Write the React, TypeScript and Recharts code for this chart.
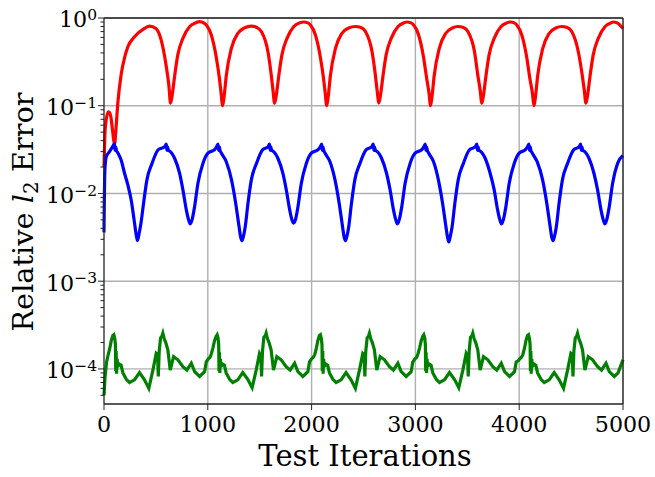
import React from 'react';
import { LineChart, Line, XAxis, YAxis, CartesianGrid, ReferenceLine } from 'recharts';

// red curve (one row per lobe, starting at its dip)
const redIter = [
  0, 8, 21, 43, 63, 85, 101, 117, 133, 166, 200, 230, 294, 390, 439, 500, 551, 600, 625,
  641, 656, 681, 711, 761, 826, 881, 921, 961, 986, 1034, 1081, 1113, 1128,
  1143, 1158, 1178, 1227, 1290, 1353, 1420, 1473, 1516, 1580, 1612, 1628,
  1644, 1659, 1684, 1714, 1764, 1829, 1884, 1924, 1964, 1989, 2037, 2084, 2116, 2131,
  2146, 2161, 2181, 2230, 2293, 2356, 2423, 2476, 2519, 2583, 2615, 2631,
  2648, 2663, 2688, 2718, 2768, 2833, 2888, 2918, 2958, 2983, 3031, 3078, 3110, 3131,
  3146, 3161, 3181, 3230, 3293, 3356, 3410, 3463, 3506, 3570, 3602, 3624,
  3640, 3655, 3680, 3710, 3760, 3825, 3880, 3912, 3952, 3977, 4025, 4072, 4104, 4127,
  4143, 4158, 4178, 4227, 4290, 4353, 4410, 4463, 4506, 4570, 4608, 4627,
  4643, 4658, 4683, 4713, 4763, 4828, 4883, 4905, 4945, 4970, 5000,
];
const redErr = [
  0.02, 0.045, 0.069, 0.085, 0.078, 0.049, 0.036, 0.058, 0.107, 0.23, 0.36, 0.47, 0.61, 0.76, 0.81, 0.76, 0.56, 0.28, 0.17,
  0.107, 0.13, 0.22, 0.38, 0.59, 0.8, 0.88, 0.91, 0.88, 0.83, 0.64, 0.36, 0.2, 0.14,
  0.1, 0.13, 0.22, 0.45, 0.67, 0.77, 0.81, 0.78, 0.7, 0.41, 0.22, 0.15,
  0.107, 0.13, 0.22, 0.38, 0.59, 0.8, 0.88, 0.9, 0.88, 0.83, 0.64, 0.36, 0.2, 0.14,
  0.1, 0.13, 0.22, 0.45, 0.67, 0.77, 0.8, 0.78, 0.7, 0.41, 0.22, 0.15,
  0.108, 0.13, 0.22, 0.38, 0.59, 0.8, 0.88, 0.9, 0.88, 0.83, 0.64, 0.36, 0.2, 0.14,
  0.1, 0.13, 0.22, 0.45, 0.67, 0.77, 0.8, 0.78, 0.7, 0.41, 0.22, 0.15,
  0.107, 0.13, 0.22, 0.38, 0.59, 0.8, 0.88, 0.9, 0.88, 0.83, 0.64, 0.36, 0.2, 0.14,
  0.1, 0.13, 0.22, 0.45, 0.67, 0.77, 0.8, 0.78, 0.7, 0.41, 0.22, 0.15,
  0.107, 0.13, 0.22, 0.38, 0.59, 0.8, 0.88, 0.9, 0.88, 0.83, 0.76,
];

// blue curve (one row per half period, starting at the spike)
const blueIter = [
  0, 8, 21, 53, 85, 101, 106, 112, 120, 133, 165, 198, 230, 262, 290, 310, 323, 336, 355, 381, 413, 463, 523, 585,
  600, 606, 612, 620, 632, 680, 728, 760, 793, 815, 831, 848, 873, 905, 953, 1001, 1066, 1085,
  1098, 1104, 1110, 1118, 1133, 1178, 1229, 1269, 1301, 1316, 1329, 1342, 1361, 1387, 1419, 1469, 1529, 1580,
  1595, 1601, 1607, 1615, 1627, 1675, 1723, 1756, 1789, 1811, 1827, 1844, 1869, 1901, 1949, 1997, 2062, 2084,
  2097, 2103, 2109, 2117, 2132, 2177, 2226, 2266, 2298, 2313, 2326, 2339, 2358, 2384, 2416, 2466, 2526, 2579,
  2594, 2600, 2606, 2614, 2626, 2674, 2722, 2756, 2789, 2811, 2827, 2844, 2869, 2901, 2949, 2997, 3062, 3082,
  3095, 3101, 3107, 3115, 3130, 3175, 3222, 3262, 3294, 3309, 3322, 3335, 3354, 3380, 3412, 3462, 3522, 3577,
  3592, 3598, 3604, 3612, 3624, 3672, 3720, 3759, 3792, 3814, 3830, 3847, 3872, 3904, 3952, 4000, 4060, 4080,
  4093, 4099, 4105, 4113, 4128, 4173, 4226, 4266, 4298, 4313, 4326, 4339, 4358, 4384, 4416, 4466, 4526, 4577,
  4592, 4598, 4604, 4612, 4624, 4672, 4720, 4755, 4788, 4810, 4826, 4843, 4868, 4900, 4948, 5000,
];
const blueErr = [
  0.0036, 0.018, 0.026, 0.03, 0.0345, 0.037, 0.031, 0.034, 0.031, 0.029, 0.024, 0.017, 0.0125, 0.0084, 0.005, 0.0034, 0.0029, 0.0034, 0.0045, 0.0077, 0.0142, 0.022, 0.0316, 0.034,
  0.0365, 0.031, 0.034, 0.031, 0.0305, 0.0252, 0.017, 0.011, 0.0065, 0.005, 0.0045, 0.005, 0.0071, 0.0131, 0.022, 0.0288, 0.0316, 0.034,
  0.0365, 0.031, 0.034, 0.031, 0.0285, 0.023, 0.0142, 0.0077, 0.0042, 0.0032, 0.0029, 0.0032, 0.0042, 0.0077, 0.0142, 0.022, 0.0316, 0.034,
  0.0365, 0.031, 0.034, 0.031, 0.0305, 0.0252, 0.017, 0.011, 0.0065, 0.005, 0.0046, 0.005, 0.0071, 0.0131, 0.022, 0.0288, 0.0316, 0.034,
  0.0365, 0.031, 0.034, 0.031, 0.0285, 0.023, 0.0142, 0.0077, 0.0042, 0.0032, 0.0029, 0.0032, 0.0042, 0.0077, 0.0142, 0.022, 0.0316, 0.034,
  0.0365, 0.031, 0.034, 0.031, 0.0305, 0.0252, 0.017, 0.011, 0.0065, 0.005, 0.0045, 0.005, 0.0071, 0.0131, 0.022, 0.0288, 0.0316, 0.034,
  0.0365, 0.031, 0.034, 0.031, 0.0285, 0.023, 0.0142, 0.0077, 0.0042, 0.0032, 0.0028, 0.0032, 0.0042, 0.0077, 0.0142, 0.022, 0.0316, 0.034,
  0.0365, 0.031, 0.034, 0.031, 0.0305, 0.0252, 0.017, 0.011, 0.0065, 0.005, 0.0045, 0.005, 0.0071, 0.0131, 0.022, 0.0288, 0.0316, 0.034,
  0.0365, 0.031, 0.034, 0.031, 0.0285, 0.023, 0.0142, 0.0077, 0.0042, 0.0032, 0.0029, 0.0032, 0.0042, 0.0077, 0.0142, 0.022, 0.0316, 0.034,
  0.0365, 0.031, 0.034, 0.031, 0.0305, 0.0252, 0.017, 0.011, 0.0065, 0.005, 0.0045, 0.005, 0.0071, 0.0131, 0.022, 0.027,
];

// green curve (one row per ~1000 iterations)
const greenIter = [
  0, 10, 25, 40, 55, 70, 85, 95, 104, 110, 113, 117, 121, 126, 132, 140, 165, 182, 215, 246, 294, 342, 390, 432, 471, 503, 516, 523, 532, 545, 560, 567, 580, 595, 615, 638, 670, 712, 760, 798, 841, 873, 921, 969, 985,
  995, 1005, 1020, 1035, 1050, 1065, 1080, 1090, 1099, 1105, 1108, 1112, 1116, 1121, 1127, 1135, 1160, 1177, 1210, 1241, 1289, 1337, 1385, 1427, 1466, 1498, 1511, 1518, 1527, 1540, 1555, 1562, 1575, 1590, 1610, 1633, 1665, 1707, 1755, 1793, 1836, 1868, 1916, 1964, 1980,
  1990, 2000, 2015, 2030, 2045, 2060, 2075, 2085, 2094, 2100, 2103, 2107, 2111, 2116, 2122, 2130, 2155, 2172, 2205, 2236, 2284, 2332, 2380, 2422, 2461, 2493, 2506, 2513, 2522, 2535, 2550, 2557, 2570, 2585, 2605, 2628, 2660, 2702, 2750, 2788, 2831, 2863, 2911, 2959, 2975,
  2986, 2996, 3011, 3026, 3041, 3056, 3071, 3081, 3090, 3096, 3099, 3103, 3107, 3112, 3118, 3126, 3151, 3168, 3201, 3232, 3280, 3328, 3376, 3418, 3457, 3489, 3502, 3509, 3518, 3531, 3546, 3553, 3566, 3581, 3601, 3624, 3656, 3698, 3746, 3784, 3827, 3859, 3907, 3955, 3971,
  3995, 4005, 4020, 4035, 4050, 4065, 4080, 4090, 4099, 4105, 4108, 4112, 4116, 4121, 4127, 4135, 4160, 4177, 4210, 4241, 4289, 4337, 4385, 4427, 4466, 4498, 4511, 4518, 4527, 4540, 4555, 4562, 4575, 4590, 4610, 4633, 4665, 4707, 4755, 4793, 4836, 4868, 4916, 4953, 4980, 5000,
];
const greenErr = [
  5.0e-5, 8.0e-5, 1.2e-4, 1.45e-4, 1.7e-4, 2.1e-4, 2.4e-4, 2.45e-4, 2.2e-4, 1.9e-4, 9.5e-5, 1.6e-4, 8.8e-5, 1.3e-4, 1.05e-4, 1.15e-4, 1.1e-4, 9.0e-5, 7.6e-5, 7.0e-5, 7.5e-5, 9.1e-5, 7.5e-5, 6.0e-5, 9.7e-5, 1.5e-4, 1.45e-4, 8.2e-5, 1.6e-4, 2.25e-4, 2.4e-4, 2.55e-4, 2.2e-4, 2.0e-4, 1.65e-4, 9.7e-5, 1.38e-4, 1.27e-4, 1.06e-4, 9.7e-5, 1.16e-4, 9.3e-5, 8.2e-5, 9.3e-5, 1.2e-4,
  1.25e-4, 1.3e-4, 1.35e-4, 1.5e-4, 1.75e-4, 2.1e-4, 2.35e-4, 2.45e-4, 2.25e-4, 1.9e-4, 9.5e-5, 1.55e-4, 9.0e-5, 1.3e-4, 1.05e-4, 1.15e-4, 1.1e-4, 9.0e-5, 7.6e-5, 7.0e-5, 7.5e-5, 9.1e-5, 7.6e-5, 6.1e-5, 9.7e-5, 1.5e-4, 1.4e-4, 8.2e-5, 1.6e-4, 2.3e-4, 2.4e-4, 2.55e-4, 2.2e-4, 2.0e-4, 1.65e-4, 9.7e-5, 1.38e-4, 1.27e-4, 1.06e-4, 9.7e-5, 1.16e-4, 9.3e-5, 8.2e-5, 9.3e-5, 1.2e-4,
  1.25e-4, 1.3e-4, 1.35e-4, 1.45e-4, 1.7e-4, 2.1e-4, 2.4e-4, 2.45e-4, 2.2e-4, 1.9e-4, 9.5e-5, 1.6e-4, 8.8e-5, 1.3e-4, 1.05e-4, 1.15e-4, 1.1e-4, 9.0e-5, 7.6e-5, 7.0e-5, 7.5e-5, 9.1e-5, 7.5e-5, 6.0e-5, 9.7e-5, 1.5e-4, 1.45e-4, 8.2e-5, 1.6e-4, 2.25e-4, 2.4e-4, 2.55e-4, 2.2e-4, 2.0e-4, 1.65e-4, 9.7e-5, 1.38e-4, 1.27e-4, 1.06e-4, 9.7e-5, 1.16e-4, 9.3e-5, 8.2e-5, 9.3e-5, 1.2e-4,
  1.25e-4, 1.3e-4, 1.35e-4, 1.5e-4, 1.75e-4, 2.1e-4, 2.35e-4, 2.45e-4, 2.25e-4, 1.9e-4, 9.5e-5, 1.55e-4, 9.0e-5, 1.3e-4, 1.05e-4, 1.15e-4, 1.1e-4, 9.0e-5, 7.6e-5, 7.0e-5, 7.5e-5, 9.1e-5, 7.6e-5, 6.1e-5, 9.7e-5, 1.5e-4, 1.4e-4, 8.2e-5, 1.6e-4, 2.3e-4, 2.4e-4, 2.55e-4, 2.2e-4, 2.0e-4, 1.65e-4, 9.7e-5, 1.38e-4, 1.27e-4, 1.06e-4, 9.7e-5, 1.16e-4, 9.3e-5, 8.2e-5, 9.3e-5, 1.2e-4,
  1.25e-4, 1.3e-4, 1.35e-4, 1.45e-4, 1.7e-4, 2.1e-4, 2.4e-4, 2.45e-4, 2.2e-4, 1.9e-4, 9.5e-5, 1.6e-4, 8.8e-5, 1.3e-4, 1.05e-4, 1.15e-4, 1.1e-4, 9.0e-5, 7.6e-5, 7.0e-5, 7.5e-5, 9.1e-5, 7.5e-5, 6.0e-5, 9.7e-5, 1.5e-4, 1.45e-4, 8.2e-5, 1.6e-4, 2.25e-4, 2.4e-4, 2.55e-4, 2.2e-4, 2.0e-4, 1.65e-4, 9.7e-5, 1.38e-4, 1.27e-4, 1.06e-4, 9.7e-5, 1.16e-4, 9.3e-5, 8.2e-5, 9.0e-5, 1.1e-4, 1.27e-4,
];

const xTicks = [0, 1000, 2000, 3000, 4000, 5000];
const yMajor = [1e-4, 1e-3, 1e-2, 1e-1, 1];
const yMinor = [
  5e-5, 6e-5, 7e-5, 8e-5, 9e-5,
  2e-4, 3e-4, 4e-4, 5e-4, 6e-4, 7e-4, 8e-4, 9e-4,
  2e-3, 3e-3, 4e-3, 5e-3, 6e-3, 7e-3, 8e-3, 9e-3,
  2e-2, 3e-2, 4e-2, 5e-2, 6e-2, 7e-2, 8e-2, 9e-2,
  0.2, 0.3, 0.4, 0.5, 0.6, 0.7, 0.8, 0.9,
];

const LEFT = 104;
const BOTTOM = 404;
const FONT = "'DejaVu Serif', serif";
const INK = '#222';

const toRows = (xs: number[], ys: number[]) => xs.map((it, i) => ({ it, err: ys[i] }));
const redData = toRows(redIter, redErr);
const blueData = toRows(blueIter, blueErr);
const greenData = toRows(greenIter, greenErr);

const YTick = (props: any) => {
  const { y, payload } = props;
  const p = Math.log10(payload.value);
  const exp = Math.round(p);
  const major = Math.abs(p - exp) < 1e-6;
  return (
    <g>
      <line x1={LEFT - (major ? 6 : 3.5)} x2={LEFT} y1={y} y2={y} stroke={INK} strokeWidth={1} />
      {major && (
        <text x={97} y={y + 9.4} textAnchor="end" fontFamily={FONT} fontSize={22.2} fill="#000">
          10
          <tspan fontSize={15.5} dy={-7.3}>{exp === 0 ? '0' : '\u2212' + -exp}</tspan>
        </text>
      )}
    </g>
  );
};

const XTick = (props: any) => {
  const { x, payload } = props;
  return (
    <g>
      <line x1={x} x2={x} y1={BOTTOM} y2={BOTTOM + 6} stroke={INK} strokeWidth={1} />
      <text x={x} y={BOTTOM + 28} textAnchor="middle" fontFamily={FONT} fontSize={22.2} fill="#000">
        {payload.value}
      </text>
    </g>
  );
};

const XTitle = () => (
  <text x={365} y={466} textAnchor="middle" fontFamily={FONT} fontSize={29} fill="#000">
    Test Iterations
  </text>
);

const YTitle = () => (
  <text transform="translate(33,212) rotate(-90)" textAnchor="middle" fontFamily={FONT} fontSize={28.8} fill="#000">
    {'Relative '}
    <tspan fontStyle="italic">l</tspan>
    <tspan fontSize={20} dy={5}>2</tspan>
    <tspan dy={-5}>{' Error'}</tspan>
  </text>
);

export default function App() {
  return (
    <div style={{ position: 'absolute', left: 0, top: 0, background: '#fff' }}>
      <LineChart width={655} height={477} margin={{ top: 18, right: 32, bottom: 0, left: 0 }}>
        <CartesianGrid stroke="#b0b0b0" strokeWidth={1.4} horizontalValues={yMajor} verticalValues={xTicks.slice(1)} />
        <XAxis
          dataKey="it"
          type="number"
          domain={[0, 5000]}
          ticks={xTicks}
          interval={0}
          height={73}
          axisLine={{ stroke: INK, strokeWidth: 1.3 }}
          tickLine={false}
          tick={<XTick />}
          label={<XTitle />}
        />
        <YAxis
          type="number"
          scale="log"
          domain={[Math.pow(10, -4.4), 1]}
          allowDataOverflow
          ticks={[...yMajor, ...yMinor]}
          interval={0}
          width={LEFT}
          axisLine={{ stroke: INK, strokeWidth: 1.3 }}
          tickLine={false}
          tick={<YTick />}
          label={<YTitle />}
        />
        <Line data={redData} dataKey="err" stroke="#ff0000" strokeWidth={3.2} dot={false} type="monotone" isAnimationActive={false} />
        <Line data={blueData} dataKey="err" stroke="#0000ff" strokeWidth={3.2} dot={false} type="monotone" isAnimationActive={false} />
        <Line data={greenData} dataKey="err" stroke="#008000" strokeWidth={3.2} dot={false} type="linear" isAnimationActive={false} />
        <ReferenceLine y={1} stroke={INK} strokeWidth={1.3} />
        <ReferenceLine x={5000} stroke={INK} strokeWidth={1.3} />
      </LineChart>
    </div>
  );
}
